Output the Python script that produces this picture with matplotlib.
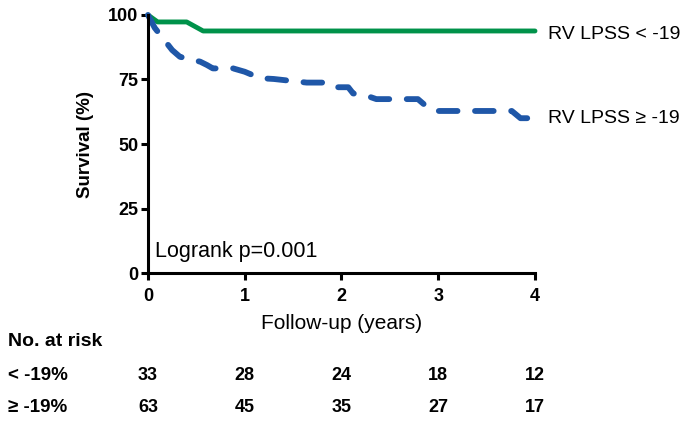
import matplotlib
matplotlib.use("Agg")
import matplotlib.pyplot as plt

plt.rcParams['font.family'] = ['Liberation Sans', 'DejaVu Sans']

# survival curves (years, %)
low_t = [0, 0.1, 0.4, 0.57, 4.0]
low_s = [100, 97.3, 97.3, 93.8, 93.8]

high_t = [0, 0.07, 0.25, 0.33, 0.54, 0.61, 0.67, 0.88, 1.0, 1.16, 1.3, 1.64, 1.88,
          1.95, 2.07, 2.12, 2.26, 2.36, 2.79, 2.88, 2.95, 3.76, 3.85, 4.0]
high_s = [100, 95, 86.4, 83.8, 81.9, 80.6, 79.3, 79.3, 78, 75.5, 75.2, 73.8, 73.8,
          72, 72, 69.6, 68.7, 67.4, 67.4, 64.5, 62.8, 62.8, 60, 60]

# number at risk table
risk_years = [0, 1, 2, 3, 4]
risk_low = [33, 28, 24, 18, 12]
risk_high = [63, 45, 35, 27, 17]
row_labels = ['< -19%', '\u2265 -19%']

green = '#00924a'
blue = '#1f57a8'

fig = plt.figure(figsize=(6.81, 4.22), dpi=100)
ax = fig.add_axes([0.2173, 0.353, 0.5683, 0.6115])

ax.plot(low_t, low_s, color=green, lw=3.5, solid_capstyle='round',
        solid_joinstyle='round', clip_on=False)
ax.plot(high_t, high_s, color=blue, lw=4.2, dashes=(3.2, 3.0),
        dash_capstyle='round', dash_joinstyle='round', clip_on=False)

ax.set_xlim(0, 4)
ax.set_ylim(0, 100)
ax.set_xticks([0, 1, 2, 3, 4])
ax.set_yticks([0, 25, 50, 75, 100])
for s in ['top', 'right']:
    ax.spines[s].set_visible(False)
for s in ['left', 'bottom']:
    ax.spines[s].set_linewidth(2.2)
ax.tick_params(width=2.2, length=5, labelsize=13, pad=2)
ax.tick_params(axis='x', pad=6)
for lab in ax.get_xticklabels() + ax.get_yticklabels():
    lab.set_fontweight('bold')

ax.set_ylabel('Survival (%)', fontsize=13.5, fontweight='bold', labelpad=10)
ax.set_xlabel('Follow-up (years)', fontsize=15, labelpad=6)

ax.text(0.07, 8.5, 'Logrank p=0.001', fontsize=15.5, va='center')

ax.text(4.13, low_s[-1] - 1.5, 'RV LPSS < -19', fontsize=14, va='center', clip_on=False)
ax.text(4.13, high_s[-1], 'RV LPSS \u2265 -19', fontsize=14, va='center', clip_on=False)

# at-risk table below axes
fig.text(8 / 681, 1 - 341 / 422, 'No. at risk', fontsize=14, fontweight='bold', va='center')
rows_y = [1 - 375 / 422, 1 - 407 / 422]
for lab, yy, vals in zip(row_labels, rows_y, [risk_low, risk_high]):
    fig.text(8 / 681, yy, lab, fontsize=13.5, fontweight='bold', va='center')
    for xv, n in zip(risk_years, vals):
        xf = fig.transFigure.inverted().transform(ax.transData.transform((xv, 0)))[0]
        fig.text(xf, yy, str(n), fontsize=13, fontweight='bold',
                 va='center', ha='center')

fig.savefig('out.png', dpi=100)
